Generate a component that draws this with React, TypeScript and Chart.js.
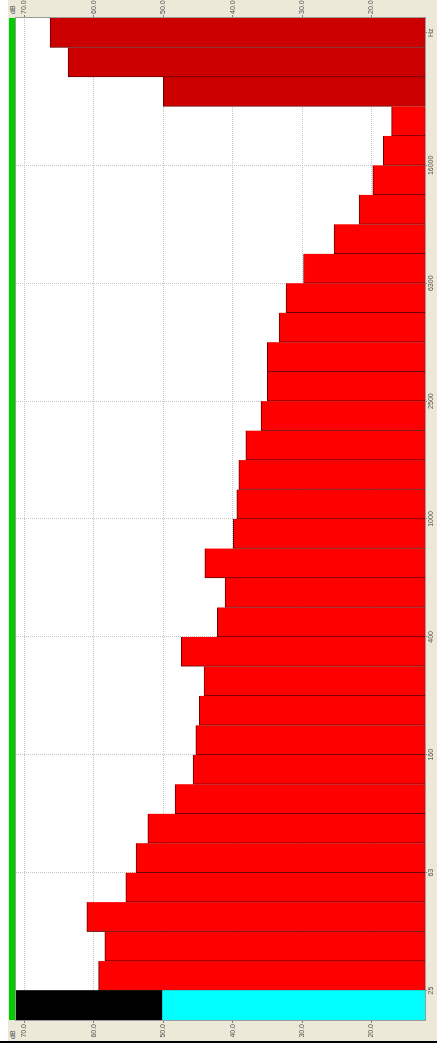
import React, { useEffect, useRef } from "react";
import { Chart, registerables } from "chart.js";

Chart.register(...registerables);

// Categories, first = bottom of picture (indicator), then 1/3-octave bands, then weighted totals
const categories = [
  "IND", "25", "31.5", "40", "50", "63", "80", "100", "125", "160", "200", "250", "315", "400", "500",
  "630", "800", "1000", "1250", "1600", "2000", "2500", "3150", "4000", "5000", "6300", "8000",
  "10000", "12500", "16000", "20000", "A", "C", "Lin",
];

// Band levels (dB)
const bandLevels: (number | null)[] = [
  null, 59.3, 58.4, 61.0, 55.4, 53.9, 52.2, 48.3, 45.7, 45.3, 44.8, 44.1, 47.4, 42.2, 41.1, 44.0,
  39.9, 39.4, 39.1, 38.1, 35.9, 35.0, 35.0, 33.3, 32.3, 29.8, 25.4, 21.8, 19.8, 18.3, 17.1,
  null, null, null,
];

// Weighted totals (dB)
const totalLevels: (number | null)[] = [
  null, null, null, null, null, null, null, null, null, null, null, null, null, null, null, null,
  null, null, null, null, null, null, null, null, null, null, null, null, null, null, null,
  50.0, 63.7, 66.3,
];

// Indicator bar
const indicatorLevel = 50.1;

// Value axis
const valueMin = 12.3;
const valueMax = 71.2;
const valueTicks = [20, 30, 40, 50, 60, 70];

// Frequency tick labels (placed at the start of these bands)
const freqTickLabels = ["25", "63", "160", "400", "1000", "2500", "6300", "16000"];
const freqUnitLabel = "Hz";

const indicatorLow = categories.map((_, i) => (i === 0 ? indicatorLevel : null));
const indicatorHigh = categories.map((_, i) => (i === 0 ? [indicatorLevel, valueMax] : null));

const W = 1053;
const H = 437;

export default function App() {
  const ref = useRef<HTMLCanvasElement | null>(null);

  useEffect(() => {
    document.body.style.margin = "0";
    const canvas = ref.current;
    if (!canvas) return;

    const freqTickValues = [
      ...freqTickLabels.map((l) => categories.indexOf(l) - 0.5),
      categories.length - 1,
    ];
    const freqTickTexts = [...freqTickLabels, freqUnitLabel];

    const tickFont = { family: "Liberation Sans", size: 7 };
    const tickColor = "#505050";
    const gridColor = "#c4c4c4";

    const frame = {
      id: "frame",
      beforeDraw(chart: any) {
        const { ctx, chartArea: a } = chart;
        ctx.save();
        ctx.fillStyle = "#ffffff";
        ctx.fillRect(a.left, a.top, a.right - a.left, a.bottom - a.top);
        ctx.restore();
      },
      afterDraw(chart: any) {
        const { ctx, chartArea: a } = chart;
        ctx.save();
        ctx.strokeStyle = "#9a9a9a";
        ctx.lineWidth = 1;
        ctx.strokeRect(a.left - 0.5, a.top - 0.5, a.right - a.left + 1, a.bottom - a.top + 1);
        ctx.restore();
      },
    };

    const common = {
      grouped: false,
      barPercentage: 1,
      categoryPercentage: 1,
    };

    const chart = new Chart(canvas, {
      type: "bar",
      data: {
        labels: categories,
        datasets: [
          {
            label: "Indicator low",
            data: indicatorLow as any,
            backgroundColor: "#00ffff",
            borderWidth: 0,
            ...common,
          },
          {
            label: "Indicator high",
            data: indicatorHigh as any,
            backgroundColor: "#000000",
            borderWidth: 0,
            ...common,
          },
          {
            label: "Bands",
            data: bandLevels as any,
            backgroundColor: "#ff0000",
            borderColor: "#6a0000",
            borderWidth: { top: 1, left: 1, right: 0, bottom: 0 } as any,
            borderSkipped: false,
            ...common,
          },
          {
            label: "Totals",
            data: totalLevels as any,
            backgroundColor: "#cc0000",
            borderColor: "#6a0000",
            borderWidth: { top: 1, left: 1, right: 0, bottom: 0 } as any,
            borderSkipped: false,
            ...common,
          },
        ],
      },
      options: {
        animation: false,
        responsive: false,
        maintainAspectRatio: false,
        layout: { padding: { top: 16, left: 0, right: 0, bottom: 0 } },
        plugins: { legend: { display: false }, tooltip: { enabled: false } },
        scales: {
          x: { type: "category", display: false, offset: true },
          xl: {
            type: "linear",
            position: "bottom",
            offset: false,
            min: -0.5,
            max: categories.length - 0.5,
            afterBuildTicks: (s: any) => {
              s.ticks = freqTickValues.map((v) => ({ value: v }));
            },
            afterFit: (s: any) => {
              s.height = 12;
            },
            ticks: {
              autoSkip: false,
              maxRotation: 0,
              minRotation: 0,
              padding: 0,
              font: tickFont,
              color: tickColor,
              callback: (_v: any, i: number) => freqTickTexts[i],
            },
            grid: {
              offset: false,
              color: (c: any) => (c.index === freqTickValues.length - 1 ? "rgba(0,0,0,0)" : gridColor),
              tickLength: 2,
              tickColor: "#808080",
            },
            border: { display: false, dash: [1, 1] },
          },
          y: {
            type: "linear",
            position: "left",
            min: valueMin,
            max: valueMax,
            afterBuildTicks: (s: any) => {
              s.ticks = valueTicks.map((v) => ({ value: v }));
            },
            afterFit: (s: any) => {
              s.width = 21;
            },
            ticks: {
              padding: 1,
              font: tickFont,
              color: tickColor,
              callback: (v: any) => Number(v).toFixed(1),
            },
            grid: { color: gridColor, tickLength: 3, tickColor: "#808080" },
            border: { display: false, dash: [1, 1] },
          },
          y2: {
            type: "linear",
            position: "right",
            min: valueMin,
            max: valueMax,
            afterBuildTicks: (s: any) => {
              s.ticks = valueTicks.map((v) => ({ value: v }));
            },
            afterFit: (s: any) => {
              s.width = 18;
            },
            ticks: {
              padding: 1,
              font: tickFont,
              color: tickColor,
              callback: (v: any) => Number(v).toFixed(1),
            },
            grid: { drawOnChartArea: false, tickLength: 3, tickColor: "#808080" },
            border: { display: false },
          },
        },
      } as any,
      plugins: [frame],
    });

    return () => chart.destroy();
  }, []);

  return (
    <div
      style={{
        position: "absolute",
        left: 0,
        top: 0,
        width: H,
        height: W,
        overflow: "hidden",
        background: "#ffffff",
      }}
    >
      <div
        style={{
          position: "absolute",
          left: 0,
          top: 0,
          width: W,
          height: H,
          transformOrigin: "0 0",
          transform: `translateY(${W}px) rotate(-90deg)`,
          background: "#ffffff",
        }}
      >
        <div style={{ position: "absolute", left: 10, top: 0, width: 2, height: H, background: "#000000" }} />
        <div style={{ position: "absolute", left: 12, top: 8, width: W - 12, height: H - 8, background: "#ece9d8" }} />
        <div style={{ position: "absolute", left: 33, top: 9, width: 1002, height: 6, background: "#00cc00" }} />
        <div
          style={{
            position: "absolute",
            left: W - 14,
            top: 9,
            fontFamily: "Liberation Sans",
            fontSize: 7,
            color: "#505050",
            lineHeight: "7px",
          }}
        >
          dB
        </div>
        <div
          style={{
            position: "absolute",
            left: 14,
            top: 9,
            fontFamily: "Liberation Sans",
            fontSize: 7,
            color: "#505050",
            lineHeight: "7px",
          }}
        >
          dB
        </div>
        <canvas
          ref={ref}
          width={W - 12}
          height={H}
          style={{ position: "absolute", left: 12, top: 0, width: W - 12, height: H }}
        />
      </div>
    </div>
  );
}
